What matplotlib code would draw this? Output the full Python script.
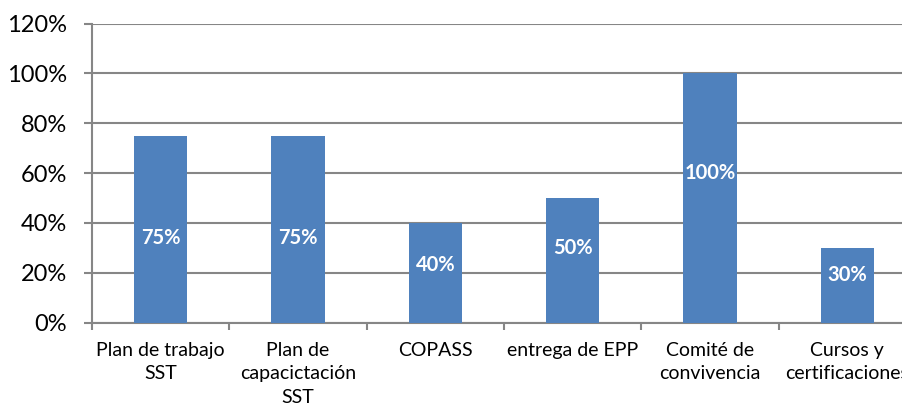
import numpy as np
import matplotlib
matplotlib.use('Agg')
import matplotlib.pyplot as plt

categories = ["Plan de trabajo\nSST", "Plan de\ncapacictación\nSST", "COPASS",
              "entrega de EPP", "Comité de\nconvivencia", "Cursos y\ncertificaciones"]
values = [75, 75, 40, 50, 100, 30]
# where the data labels sit, as a share of the bar height
label_frac = [0.45, 0.45, 0.58, 0.6, 0.6, 0.64]
yticks = [0, 20, 40, 60, 80, 100, 120]

plt.rcParams['font.family'] = ['Lato', 'DejaVu Sans']

fig = plt.figure(figsize=(9.03, 4.08), dpi=100)
ax = fig.add_axes([92 / 903, 1 - 322.5 / 408, 824 / 903, 299 / 408])

x = np.arange(len(categories))
ax.bar(x, values, width=0.39, color='#4F81BD', zorder=3)
for xi, v, f in zip(x, values, label_frac):
    ax.text(xi, v * f, f"{v}%", ha='center', va='center', color='white',
            fontsize=14.5, fontweight='bold', zorder=4)

ax.set_xlim(-0.5, len(categories) - 0.5)
ax.set_ylim(0, 120)
ax.set_yticks(yticks)
ax.set_yticklabels([f"{t}%" for t in yticks], fontsize=17)
ax.yaxis.grid(True, color='#868686', linewidth=1.5, zorder=0)

ax.set_xticks(x)
ax.set_xticklabels(categories, fontsize=14, linespacing=1.45)
ax.set_xticks(np.arange(len(categories) + 1) - 0.5, minor=True)
ax.tick_params(axis='x', which='major', length=0, pad=14)
ax.tick_params(axis='x', which='minor', length=5, color='#868686', width=1.5)
ax.tick_params(axis='y', length=6, color='#868686', width=1.5, pad=12)

for s in ['top', 'right']:
    ax.spines[s].set_visible(False)
for s in ['left', 'bottom']:
    ax.spines[s].set_color('#868686')
    ax.spines[s].set_linewidth(1.5)

plt.savefig("out.png", dpi=100)
